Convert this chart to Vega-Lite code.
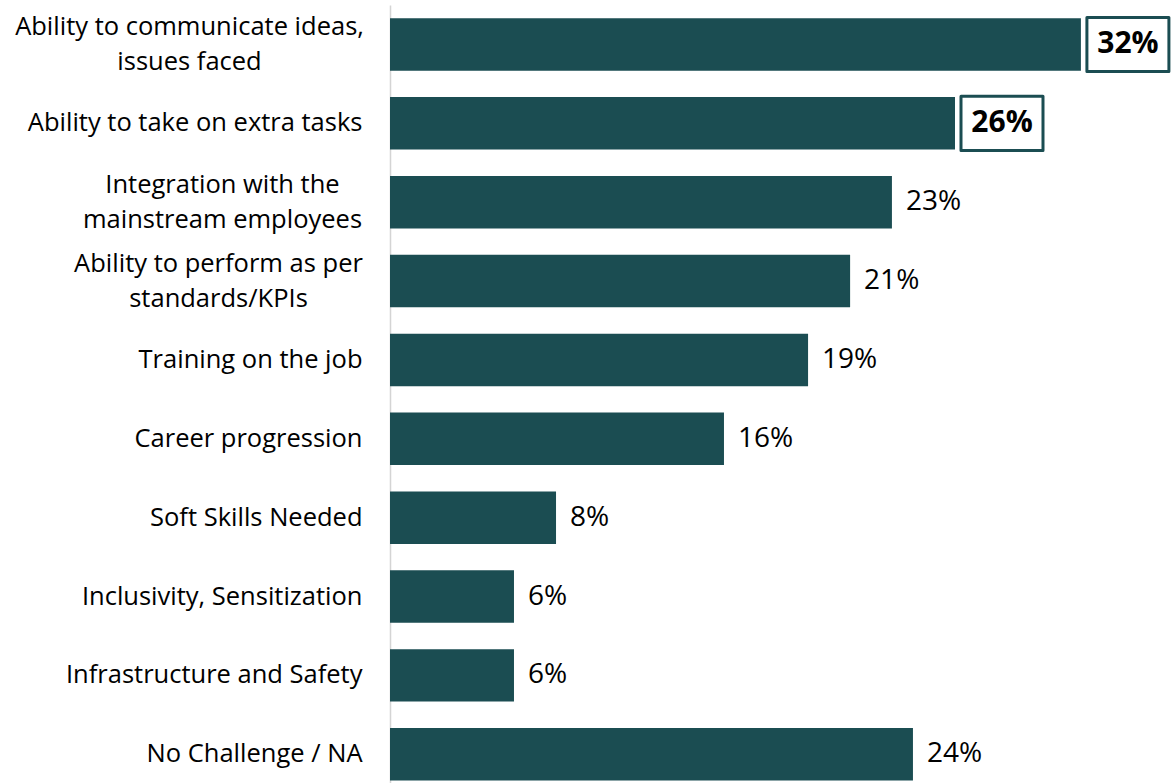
{
  "$schema": "https://vega.github.io/schema/vega-lite/v6.json",
  "autosize": "none",
  "padding": {"left": 390, "top": 5, "right": 0, "bottom": 0},
  "width": 781,
  "height": 778,
  "background": "white",
  "config": {"view": {"stroke": null}, "font": "Open Sans"},
  "data": {
    "values": [
      {"challenge": "Ability to communicate ideas,|issues faced", "share": 0.3221, "highlight": true},
      {"challenge": "Ability to take on extra tasks", "share": 0.2634, "highlight": true},
      {"challenge": "Integration with the|mainstream employees", "share": 0.234, "highlight": false},
      {"challenge": "Ability to perform as per|standards/KPIs", "share": 0.2145, "highlight": false},
      {"challenge": "Training on the job", "share": 0.1949, "highlight": false},
      {"challenge": "Career progression", "share": 0.1557, "highlight": false},
      {"challenge": "Soft Skills Needed", "share": 0.0774, "highlight": false},
      {"challenge": "Inclusivity, Sensitization", "share": 0.0578, "highlight": false},
      {"challenge": "Infrastructure and Safety", "share": 0.0578, "highlight": false},
      {"challenge": "No Challenge / NA", "share": 0.2438, "highlight": false}
    ]
  },
  "encoding": {
    "y": {
      "field": "challenge",
      "type": "nominal",
      "sort": null,
      "scale": {"paddingInner": 0.335, "paddingOuter": 0.1, "align": 0.84},
      "axis": {
        "title": null,
        "ticks": false,
        "domain": true,
        "domainColor": "#d4d4d4",
        "domainWidth": 1.5,
        "labelExpr": "split(datum.label, '|')",
        "labelFontSize": 25.5,
        "labelColor": "#000000",
        "labelLimit": 400,
        "labelLineHeight": 34.5,
        "labelBaseline": "middle",
        "labelAlign": {"condition": {"test": "indexof(datum.value, '|') >= 0", "value": "center"}, "value": "right"},
        "labelPadding": {"condition": [
          {"test": "indexof(datum.value, 'communicate') >= 0", "value": 201},
          {"test": "indexof(datum.value, 'Integration') >= 0", "value": 168},
          {"test": "indexof(datum.value, 'perform') >= 0", "value": 172}
        ], "value": 28},
        "labelOffset": {"condition": {"test": "indexof(datum.value, '|') >= 0", "value": -17}, "value": 0}
      }
    },
    "x": {
      "field": "share",
      "type": "quantitative",
      "scale": {"domain": [0, 0.3641]},
      "axis": null
    }
  },
  "layer": [
    {"mark": {"type": "bar", "color": "#1b4d52"}},
    {
      "transform": [{"filter": "!datum.highlight"}],
      "mark": {"type": "text", "align": "left", "baseline": "middle", "dx": 14, "fontSize": 28, "color": "#000000"},
      "encoding": {"text": {"field": "share", "format": ".0%"}}
    },
    {
      "transform": [{"filter": "datum.highlight"}],
      "mark": {"type": "point", "shape": "M-1,-0.66H1V0.66H-1Z", "size": 6724, "filled": true, "fill": "white", "stroke": "#1b4d52", "strokeWidth": 3, "strokeJoin": "round", "opacity": 1, "xOffset": 47}
    },
    {
      "transform": [{"filter": "datum.highlight"}],
      "mark": {"type": "text", "align": "center", "baseline": "middle", "dx": 47, "fontSize": 30, "fontWeight": "bold", "color": "#000000"},
      "encoding": {"text": {"field": "share", "format": ".0%"}}
    }
  ]
}
